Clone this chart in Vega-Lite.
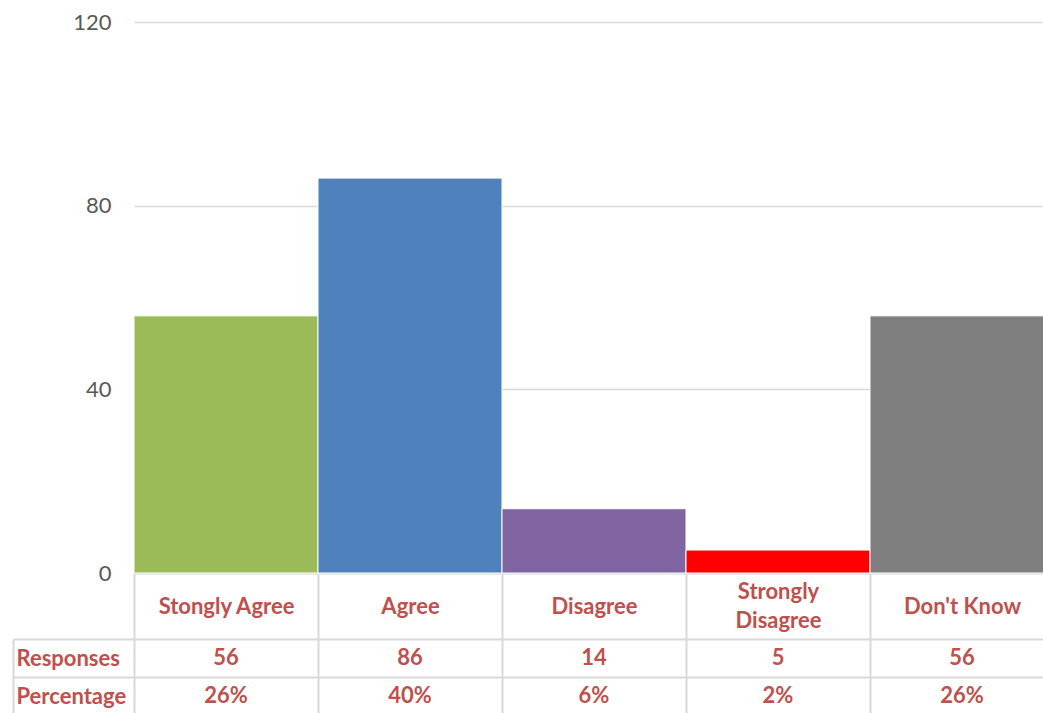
{
  "$schema": "https://vega.github.io/schema/vega-lite/v6.json",
  "background": "white",
  "padding": {"left": 12, "top": 11, "right": 0, "bottom": 0},
  "bounds": "flush",
  "spacing": 66,
  "config": {"view": {"stroke": null}, "font": "Lato"},
  "datasets": {
    "survey": [
      {"answer": "Stongly Agree", "Responses": 56, "Percentage": "26%"},
      {"answer": "Agree", "Responses": 86, "Percentage": "40%"},
      {"answer": "Disagree", "Responses": 14, "Percentage": "6%"},
      {"answer": "Strongly Disagree", "Responses": 5, "Percentage": "2%"},
      {"answer": "Don't Know", "Responses": 56, "Percentage": "26%"}
    ]
  },
  "vconcat": [
    {
      "width": 920,
      "height": 551,
      "data": {"name": "survey"},
      "mark": {"type": "bar", "stroke": "white", "strokeWidth": 1},
      "encoding": {
        "x": {
          "field": "answer",
          "type": "nominal",
          "sort": ["Stongly Agree", "Agree", "Disagree", "Strongly Disagree", "Don't Know"],
          "scale": {"paddingInner": 0, "paddingOuter": 0},
          "axis": {
            "title": null,
            "labelAngle": 0,
            "tickBand": "extent",
            "tickSize": 66,
            "tickColor": "#D9D9D9",
            "tickWidth": 2,
            "domainColor": "#D9D9D9",
            "domainWidth": 2,
            "labelPadding": {"condition": {"test": "datum.value == 'Strongly Disagree'", "value": -48}, "value": -33},
            "labelBaseline": "middle",
            "labelFont": "Lato",
            "labelFontSize": 22,
            "labelFontWeight": "bold",
            "labelColor": "#C0504D",
            "labelLimit": 300,
            "labelLineHeight": 29,
            "labelExpr": "datum.value == 'Strongly Disagree' ? ['Strongly', 'Disagree'] : datum.value"
          }
        },
        "y": {
          "field": "Responses",
          "type": "quantitative",
          "scale": {"domain": [0, 120]},
          "axis": {
            "title": null,
            "values": [0, 40, 80, 120],
            "domain": false,
            "ticks": false,
            "tickSize": 0,
            "labelPadding": 23,
            "labelFont": "Lato",
            "labelFontSize": 22,
            "labelColor": "#595959",
            "gridColor": "#D9D9D9",
            "gridWidth": 1.5
          }
        },
        "color": {
          "field": "answer",
          "type": "nominal",
          "scale": {
            "domain": ["Stongly Agree", "Agree", "Disagree", "Strongly Disagree", "Don't Know"],
            "range": ["#9BBB59", "#4F81BD", "#8064A2", "#FF0000", "#7F7F7F"]
          },
          "legend": null
        }
      }
    },
    {
      "width": 920,
      "height": 76,
      "data": {"name": "survey"},
      "transform": [{"fold": ["Responses", "Percentage"], "as": ["row", "val"]}],
      "mark": {"type": "text", "font": "Lato", "fontWeight": "bold", "fontSize": 22, "color": "#C0504D"},
      "encoding": {
        "x": {
          "field": "answer",
          "type": "nominal",
          "sort": ["Stongly Agree", "Agree", "Disagree", "Strongly Disagree", "Don't Know"],
          "scale": {"paddingInner": 0, "paddingOuter": 0},
          "axis": {
            "title": null,
            "labels": false,
            "ticks": false,
            "domain": false,
            "grid": true,
            "tickBand": "extent",
            "gridColor": "#D9D9D9",
            "gridWidth": 2
          }
        },
        "y": {
          "field": "row",
          "type": "nominal",
          "sort": ["Responses", "Percentage"],
          "scale": {"paddingInner": 0, "paddingOuter": 0},
          "axis": {
            "title": null,
            "orient": "left",
            "offset": 121,
            "tickBand": "extent",
            "tickSize": -121,
            "tickColor": "#D9D9D9",
            "tickWidth": 2,
            "domainColor": "#D9D9D9",
            "domainWidth": 2,
            "grid": true,
            "gridColor": "#D9D9D9",
            "gridWidth": 2,
            "labelAlign": "left",
            "labelPadding": 118,
            "labelFont": "Lato",
            "labelFontSize": 22,
            "labelFontWeight": "bold",
            "labelColor": "#C0504D"
          }
        },
        "text": {"field": "val", "type": "nominal"}
      }
    }
  ]
}
